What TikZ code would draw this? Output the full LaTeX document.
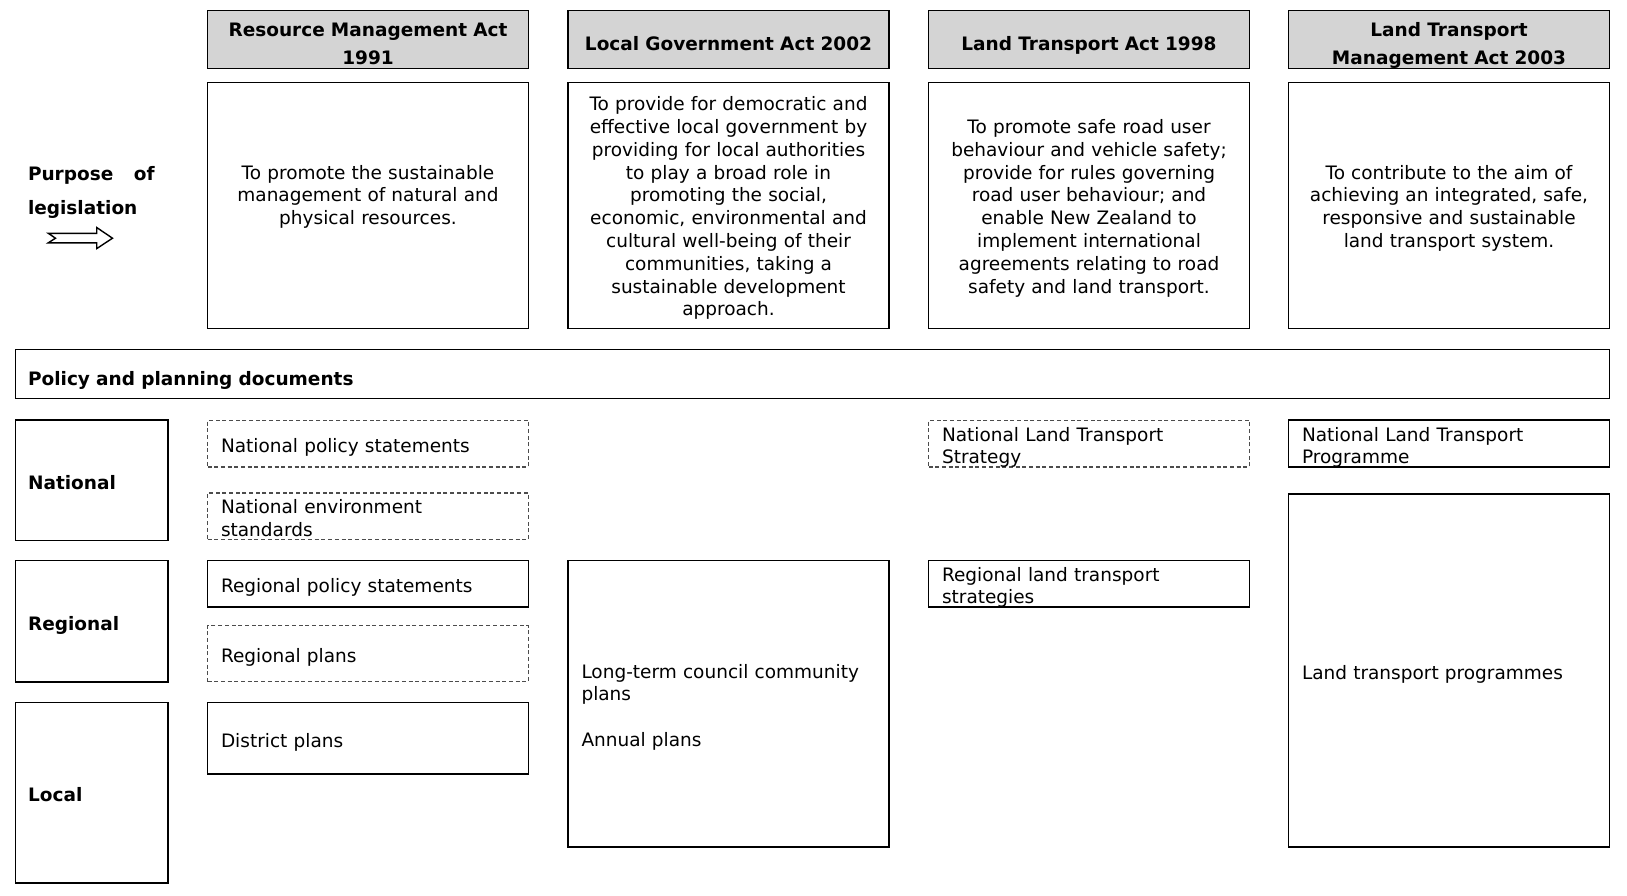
\documentclass[tikz,border=0pt]{standalone}
\usepackage{fontspec}
\setmainfont{DejaVu Sans}
\usepackage{xcolor}
\usepackage{tikz}
\usetikzlibrary{positioning,calc}

\definecolor{actgray}{RGB}{212,212,212}
\newcommand{\docsize}{\fontsize{18.5pt}{22.8pt}\selectfont}
\newcommand{\actsize}{\fontsize{18.5pt}{28pt}\selectfont\bfseries}

\begin{document}
\begin{tikzpicture}[x=1pt, y=-1pt,
    act/.style={draw, line width=1.6pt, fill=actgray, font=\actsize, align=center, text width=300pt, minimum width=321pt, minimum height=58pt, inner sep=0pt, text height=22pt, text depth=1pt},
    purp/.style={draw, line width=1.6pt, font=\docsize, align=center, text width=300pt, minimum width=321pt, minimum height=246pt, inner sep=0pt, text height=18.6pt, text depth=71.4pt},
    doc/.style={draw, line width=1.6pt, font=\docsize, align=left, text width=294pt, inner xsep=13.5pt, inner ysep=0pt, minimum height=46.7pt, text height=18.6pt, text depth=1pt},
    opt/.style={doc, draw=black!70, line width=1.2pt, dash pattern=on 4pt off 2.7pt},
    lvl/.style={draw, line width=1.6pt, font=\docsize\bfseries, align=left, text width=127.7pt, inner xsep=12.4pt, inner ysep=0pt, text height=19pt, text depth=1pt}
]
\useasboundingbox (0,0) rectangle (1627,895);

% ---- Acts ----
\node[act, text depth=29pt] (rmaH) at (368,39.5) {Resource Management Act\\ 1991};
\node[act] (lgaH) at (728.5,39.5) {Local Government Act 2002};
\node[act] (ltaH) at (1089,39.5) {Land Transport Act 1998};
\node[act, text depth=29pt] (ltmH) at (1449,39.5) {Land Transport\\ Management Act 2003};

% ---- Purpose of each act ----
\node[purp, below=12.4pt of rmaH] (rmaP) {To promote the sustainable\\ management of natural and\\ physical resources.};
\node[purp, below=12.4pt of lgaH, text depth=208.2pt] (lgaP) {To provide for democratic and\\ effective local government by\\ providing for local authorities\\ to play a broad role in\\ promoting the social,\\ economic, environmental and\\ cultural well-being of their\\ communities, taking a\\ sustainable development\\ approach.};
\node[purp, below=12.4pt of ltaH, text depth=162.6pt] (ltaP) {To promote safe road user\\ behaviour and vehicle safety;\\ provide for rules governing\\ road user behaviour; and\\ enable New Zealand to\\ implement international\\ agreements relating to road\\ safety and land transport.};
\node[purp, below=12.4pt of ltmH] (ltmP) {To contribute to the aim of\\ achieving an integrated, safe,\\ responsive and sustainable\\ land transport system.};

\node[font=\fontsize{18.5pt}{34pt}\selectfont\bfseries, align=left, text width=126.6pt, inner sep=0pt] (purpL) at (91.3,192) {Purpose\hfill of\\ legislation};
\draw[line width=1.4pt] (48.3,233.3) -- (96.7,233.3) -- (96.7,227.5) -- (112.5,238.2) -- (96.7,248.6) -- (96.7,242.8) -- (48.3,242.8) -- (55.5,238.2) -- cycle;

% ---- Policy bar ----
\node[draw, line width=1.6pt, font=\docsize\bfseries, align=left, text width=1568.9pt, inner xsep=12.4pt, inner ysep=0pt, minimum height=48.7pt, text height=23.5pt, text depth=1pt] (pol) at (812.5,374) {Policy and planning documents};

% ---- Levels ----
\node[lvl, minimum height=120.4pt] (natL) at (91.9,480.4) {National};
\node[lvl, minimum height=121.4pt] (regL) at (91.9,621) {Regional};
\node[lvl, minimum height=180.5pt] (locL) at (91.9,792.8) {Local};

% ---- RMA documents ----
\node[opt] (nps) at (368,443.6) {National policy statements};
\node[opt, text depth=23.8pt] (nes) at (368,516.3) {National environment\\ standards};
\node[doc] (rps) at (368,583.7) {Regional policy statements};
\node[opt, minimum height=56pt] (rpl) at (368,653.7) {Regional plans};
\node[doc, minimum height=71.6pt] (dpl) at (368,738.3) {District plans};

% ---- LGA documents ----
\node[doc, minimum height=286.4pt, text depth=69.4pt] (ltccp) at (728.5,703.5) {Long-term council community\\ plans\\[22.8pt] Annual plans};

% ---- LTA documents ----
\node[opt, text depth=23.8pt] (nlts) at (1089,443.6) {National Land Transport\\ Strategy};
\node[doc, text depth=23.8pt] (rlts) at (1089,583.7) {Regional land transport\\ strategies};

% ---- LTMA documents ----
\node[doc, text depth=23.8pt] (nltp) at (1449,443.6) {National Land Transport\\ Programme};
\node[doc, minimum height=352.8pt] (ltp) at (1449,670.3) {Land transport programmes};
\end{tikzpicture}
\end{document}
